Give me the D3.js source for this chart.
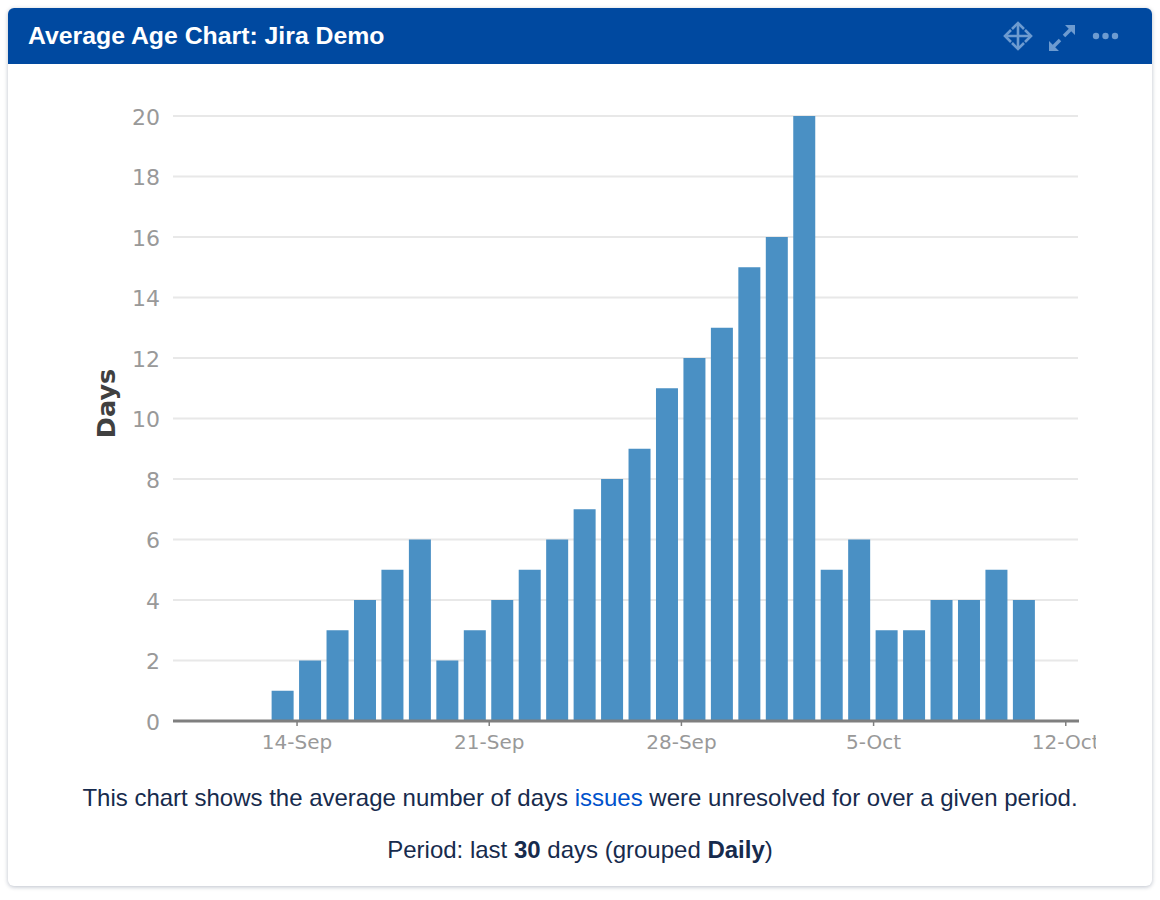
<!DOCTYPE html>
<html>
<head>
<meta charset="utf-8">
<script src="https://cdn.jsdelivr.net/npm/d3@7"></script>
<style>
  html, body { margin: 0; padding: 0; background: #fff; }
  body { width: 1160px; height: 900px; position: relative; overflow: hidden; font-family: "Liberation Sans", Arial, sans-serif; }
  #card { position: absolute; left: 8px; top: 8px; width: 1144px; height: 878px; background: #fff; border-radius: 6px; box-shadow: 0 1px 4px rgba(9,30,66,0.28); }
  #head { position: absolute; left: 0; top: 0; width: 1144px; height: 56px; background: #0049a0; border-radius: 6px 6px 0 0; }
  #title { position: absolute; left: 20px; top: 13px; font-size: 24.8px; line-height: 30px; font-weight: bold; color: #fff; white-space: nowrap; }
  #chart { position: absolute; left: 0; top: 0; }
  .note { position: absolute; left: 0; width: 1160px; text-align: center; font-size: 24px; line-height: 30px; color: #172b4d; white-space: nowrap; }
  .note a { color: #0052cc; text-decoration: none; }
  .note b { font-weight: bold; }
  .domain { display: none; }
</style>
</head>
<body>
<div id="card">
  <div id="head"><div id="title">Average Age Chart: Jira Demo</div></div>
</div>
<svg id="chart" width="1160" height="900"></svg>
<div class="note" style="top:783px">This chart shows the average number of days <a href="#">issues</a> were unresolved for over a given period.</div>
<div class="note" style="top:835px">Period: last <b>30</b> days (grouped <b>Daily</b>)</div>
<script>
// values
const days = ["2018-09-13","2018-09-14","2018-09-15","2018-09-16","2018-09-17","2018-09-18","2018-09-19",
  "2018-09-20","2018-09-21","2018-09-22","2018-09-23","2018-09-24","2018-09-25","2018-09-26","2018-09-27",
  "2018-09-28","2018-09-29","2018-09-30","2018-10-01","2018-10-02","2018-10-03","2018-10-04","2018-10-05",
  "2018-10-06","2018-10-07","2018-10-08","2018-10-09","2018-10-10"];
const avgDays = [1,2,3,4,5,6,2,3,4,5,6,7,8,9,11,12,13,15,16,20,5,6,3,3,4,4,5,4];
const xTicks = ["2018-09-14","2018-09-21","2018-09-28","2018-10-05","2018-10-12"];
const yTicks = [0,2,4,6,8,10,12,14,16,18,20];

const parse = d3.utcParse("%Y-%m-%d");
const fmt = d3.utcFormat("%-d-%b");

const left = 173, right = 1079, top_ = 116, bottom = 721;

const svg = d3.select("#chart");

const x = d3.scaleUtc()
  .domain([d3.utcHour.offset(parse("2018-09-09"), 12), d3.utcHour.offset(parse("2018-10-12"), 12)])
  .range([left, right]);
const y = d3.scaleLinear().domain([0, 20]).range([bottom, top_]);

svg.append("clipPath").attr("id", "cut")
  .append("rect").attr("x", 0).attr("y", 0).attr("width", 1096).attr("height", 900);

// gridlines
svg.append("g").attr("class", "grid")
  .selectAll("line")
  .data(yTicks.filter(d => d > 0))
  .join("line")
  .attr("x1", left).attr("x2", right - 1)
  .attr("y1", d => y(d)).attr("y2", d => y(d))
  .attr("stroke", "#e8e8e8").attr("stroke-width", 2);

// bars
const oneDay = x(parse("2018-09-14")) - x(parse("2018-09-13"));
svg.append("g").attr("class", "bars")
  .selectAll("rect")
  .data(days.map((d, i) => ({ day: parse(d), value: avgDays[i] })))
  .join("rect")
  .attr("x", d => x(d.day) + 0.5 * oneDay - 11.2)
  .attr("width", 22)
  .attr("y", d => y(d.value))
  .attr("height", d => y(0) - y(d.value))
  .attr("fill", "#4a90c4");

// y axis
const yAxis = svg.append("g")
  .attr("transform", `translate(${left},1)`)
  .call(d3.axisLeft(y).tickValues(yTicks).tickSize(0).tickPadding(13));
yAxis.selectAll("text")
  .attr("font-family", "DejaVu Sans")
  .attr("font-size", 22)
  .attr("fill", "#999");

// x axis
const xAxis = svg.append("g")
  .attr("clip-path", "url(#cut)")
  .append("g")
  .attr("transform", `translate(0,${bottom})`)
  .call(d3.axisBottom(x).tickValues(xTicks.map(parse)).tickFormat(fmt).tickSize(5).tickPadding(9));
xAxis.selectAll("line").attr("stroke", "#7f7f7f").attr("stroke-width", 1.5);
xAxis.selectAll("text")
  .attr("font-family", "DejaVu Sans")
  .attr("font-size", 20)
  .attr("fill", "#999");

// baseline
svg.append("line")
  .attr("x1", left).attr("x2", right)
  .attr("y1", bottom).attr("y2", bottom)
  .attr("stroke", "#7f7f7f").attr("stroke-width", 3);

// axis title
svg.append("text")
  .attr("transform", `translate(115,${(top_ + bottom) / 2 - 15}) rotate(-90)`)
  .attr("text-anchor", "middle")
  .attr("font-family", "DejaVu Sans")
  .attr("font-size", 25.5)
  .attr("font-weight", "bold")
  .attr("fill", "#404040")
  .text("Days");

// header icons
const icons = svg.append("g").attr("fill", "none").attr("stroke", "#6d9bd0").attr("stroke-width", 2.6);
icons.append("path").attr("d", "M1018 24V48M1007 36H1029");
icons.append("path").attr("d", "M1012 29l6-6l6 6M1012 43l6 6l6-6M1011 30l-6 6l6 6M1025 30l6 6l-6 6");
icons.append("path").attr("stroke-width", 3.5).attr("d", "M1052 48L1060 40M1064 36L1072 28");
icons.append("path").attr("fill", "#6d9bd0").attr("stroke", "none")
  .attr("d", "M1049 51V41l10 10zM1075 25v10l-10-10z");
svg.append("g").selectAll("circle").data([1096, 1105.5, 1115]).join("circle")
  .attr("cx", d => d).attr("cy", 36).attr("r", 3.2).attr("fill", "#6d9bd0");
</script>
</body>
</html>
